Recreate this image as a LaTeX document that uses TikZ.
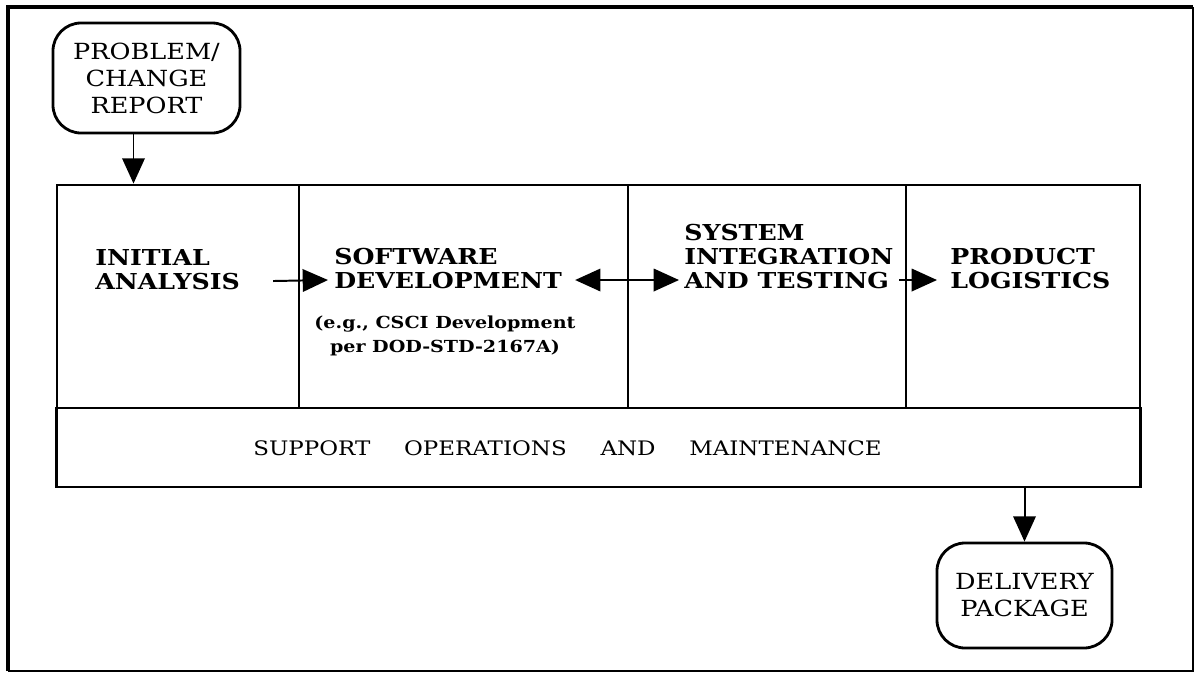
\documentclass[tikz,border=0pt]{standalone}
\usepackage{fontspec}
\setmainfont{DejaVu Serif}[FakeStretch=1.15]
\usetikzlibrary{arrows.meta,calc}
\begin{document}
\begin{tikzpicture}[x=0.025cm,y=-0.025cm,
  box/.style={draw,line width=2pt,inner sep=0pt},
  cell/.style={box,rectangle},
  term/.style={box,rounded corners=20pt,align=center,font=\fontsize{15.8}{19.2}\selectfont},
  hd/.style={inner sep=0pt,anchor=base west,font=\bfseries\fontsize{15.6}{16.7}\selectfont},
  note/.style={inner sep=0pt,anchor=base,font=\bfseries\fontsize{11.8}{14}\selectfont},
  band/.style={inner sep=0pt,anchor=base west,font=\fontsize{14.2}{16}\selectfont},
  tip/.tip={Triangle[length=18pt,width=16pt]},
  arr/.style={line width=1.4pt,-tip},
  barr/.style={line width=1.4pt,tip-tip},
]
\useasboundingbox (0,0) rectangle (1195,677);
% outer frame
\draw[line width=2.5pt] (8,671) -- (8,7) -- (1193,7);
\draw[line width=1.2pt] (1193,7) -- (1193,671) -- (8,671);
% cells
\node[cell,minimum width=6.05cm,minimum height=5.575cm] (c1) at (178,296.5) {};
\node[cell,minimum width=8.225cm,minimum height=5.575cm] (c2) at (463.5,296.5) {};
\node[cell,minimum width=6.95cm,minimum height=5.575cm] (c3) at (767,296.5) {};
\node[cell,minimum width=5.85cm,minimum height=5.575cm] (c4) at (1023,296.5) {};
\node[cell,minimum width=27.075cm,minimum height=1.975cm] (sup) at (598.5,447.5) {};
% terminals
\node[term,minimum width=4.675cm,minimum height=2.75cm] (prob) at (146.5,78) {PROBLEM/\\CHANGE\\REPORT};
\node[term,minimum width=4.375cm,minimum height=2.625cm] (deliv) at (1024.5,595.5) {DELIVERY\\PACKAGE};
% headings
\node[hd] (ia1) at (95,265) {INITIAL};
\node[hd] (ia2) at (95,289) {ANALYSIS};
\node[hd] (sd1) at (334,264) {SOFTWARE};
\node[hd] (sd2) at (334,288) {DEVELOPMENT};
\node[note] (sd3) at (445,328) {(e.g., CSCI Development};
\node[note] (sd4) at (445,352) {per DOD-STD-2167A)};
\node[hd] (si1) at (684,240) {SYSTEM};
\node[hd] (si2) at (684,264) {INTEGRATION};
\node[hd] (si3) at (684,288) {AND TESTING};
\node[hd] (pl1) at (950,264) {PRODUCT};
\node[hd] (pl2) at (950,288) {LOGISTICS};
\node[band] (spt) at (253,455) {SUPPORT\hspace{24pt}OPERATIONS\hspace{24pt}AND\hspace{24pt}MAINTENANCE};
% connectors
\coordinate (pa) at ($(prob.south)+(-13,0)$);
\draw[arr] (pa) -- (pa |- c1.north);
\draw[arr] ($(ia2.east)+(33,0)$) -- ($(sd2.west)+(-6,0)$);
\draw[barr] ($(sd2.east)+(13,0)$) -- ($(si3.west)+(-5,0)$);
\draw[arr] ($(si3.east)+(10,0)$) -- ($(pl2.west)+(-13,0)$);
\draw[arr] (sup.south -| deliv.north) -- (deliv.north);
\end{tikzpicture}
\end{document}
